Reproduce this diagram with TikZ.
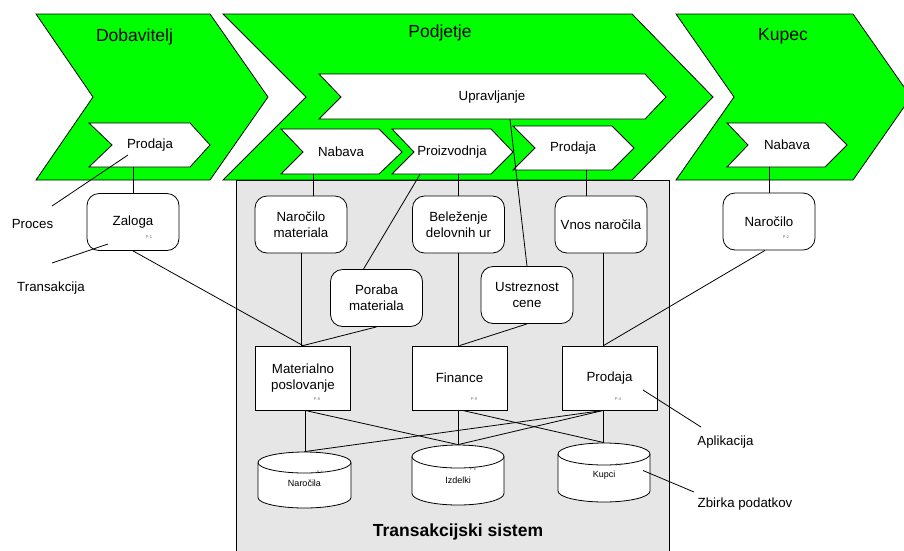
\documentclass[tikz,border=0pt]{standalone}
\usepackage{fontspec}
\setmainfont{Liberation Sans}
\usetikzlibrary{calc}
\definecolor{flowgreen}{RGB}{0,255,0}
\definecolor{sysgray}{RGB}{230,230,230}
\definecolor{taggray}{RGB}{110,110,110}

% data store drum: left x, right x, top y, bottom y, half height of the ellipse
\newcommand{\drum}[5]{%
  \pgfmathsetmacro\drumrx{(#2-#1)/2}%
  \draw[fill=white] (#1,#3+#5) -- (#1,#4-#5)
    arc[start angle=180,end angle=360,x radius=\drumrx pt,y radius=#5pt]
    -- (#2,#3+#5)
    arc[start angle=0,end angle=180,x radius=\drumrx pt,y radius=#5pt] -- cycle;
  \draw (#1,#3+#5) arc[start angle=180,end angle=360,x radius=\drumrx pt,y radius=#5pt];
}

\begin{document}
\begin{tikzpicture}[x=1pt,y=-1pt,line width=0.8pt,
  stage/.style={draw=black,fill=flowgreen},
  stepshape/.style={draw=black,fill=white},
  title/.style={font=\fontsize{17.5}{20}\selectfont,inner sep=0pt},
  steplabel/.style={font=\fontsize{13.3}{16}\selectfont,inner sep=0pt,minimum height=44pt},
  txbox/.style={draw,fill=white,rounded corners=12pt,align=center,
    font=\fontsize{13.3}{16}\selectfont,minimum width=92pt,minimum height=57pt,inner sep=2pt},
  appbox/.style={draw,fill=white,align=center,
    font=\fontsize{13.3}{16}\selectfont,minimum width=95pt,minimum height=64pt,inner sep=2pt},
  dblabel/.style={font=\fontsize{9}{11}\selectfont,inner sep=0pt,minimum width=92pt},
  tag/.style={font=\fontsize{4}{4}\selectfont,text=taggray,inner sep=0pt},
  note/.style={font=\fontsize{13.3}{16}\selectfont,inner sep=0pt},
  link/.style={draw=black,line width=0.8pt}
]
\useasboundingbox (0,0) rectangle (904,550);

% transaction system area
\draw[fill=sysgray] (236,180) rectangle (669,556);

% value chain stages
\draw[stage] (36,14) -- (210,14) -- (268,97) -- (210,180) -- (36,180) -- (93,97) -- cycle;
\draw[stage] (223,14) -- (632,14) -- (713,97) -- (632,180) -- (223,180) -- (306,97) -- cycle;
\draw[stage] (676,14) -- (853,14) -- (911,97) -- (853,180) -- (676,180) -- (734,97) -- cycle;

% processes
\draw[stepshape] (89,123) -- (190,123) -- (210,145) -- (190,167) -- (89,167) -- (112,145) -- cycle;
\draw[stepshape] (319,74) -- (645,74) -- (666,97) -- (645,119) -- (319,119) -- (341,97) -- cycle;
\draw[stepshape] (281,129) -- (379,129) -- (402,152) -- (379,174) -- (281,174) -- (303,152) -- cycle;
\draw[stepshape] (392,129) -- (491,129) -- (513,152) -- (491,174) -- (392,174) -- (414,152) -- cycle;
\draw[stepshape] (513,126) -- (612,126) -- (634,148) -- (612,170) -- (513,170) -- (535,148) -- cycle;
\draw[stepshape] (727,123) -- (825,123) -- (847,145) -- (825,167) -- (727,167) -- (748,145) -- cycle;

\node[title] (dobtitle) at (134.5,37) {Dobavitelj};
\node[title] (podtitle) at (440,33) {Podjetje};
\node[title] (kuptitle) at (783,36) {Kupec};

\node[steplabel] (dprod)   at (150,145) {Prodaja};
\node[steplabel] (upr)     at (492,97)  {Upravljanje};
\node[steplabel] (nabava)  at (341,152) {Nabava};
\node[steplabel] (proizv)  at (452,152) {Proizvodnja};
\node[steplabel] (podprod) at (573,148) {Prodaja};
\node[steplabel] (kupnab)  at (787,145) {Nabava};

% transactions
\node[txbox] (zaloga)     at (133,222)     {Zaloga};
\node[txbox] (narocilo)   at (769,221.5)   {Naročilo};
\node[txbox] (narmat)     at (301,224.5)   {Naročilo\\materiala};
\node[txbox] (belezenje)  at (458.5,224.5) {Beleženje\\delovnih ur};
\node[txbox] (vnos)       at (601,224.5)   {Vnos naročila};
\node[txbox] (poraba)     at (376.5,298)   {Poraba\\materiala};
\node[txbox] (ustreznost) at (527,295)     {Ustreznost\\cene};
\node[tag] (tagzal) at (149,237) {P-1};
\node[tag] (tagnar) at (786,237) {P-2};

% applications
\node[appbox] (matpos)  at (303,378)   {Materialno\\poslovanje};
\node[appbox] (finance) at (459.5,378) {Finance};
\node[appbox] (prodapp) at (609.5,378) {Prodaja};
\node[tag] (tagmat) at (317,399) {P-8};
\node[tag] (tagfin) at (474,399) {P-9};
\node[tag] (tagpro) at (618,399) {P-4};

% data stores
\drum{258}{351}{452}{508}{10.5}
\drum{412}{504}{445}{505}{11.5}
\drum{558}{650}{443}{502}{11}
\node[dblabel,minimum height=62pt] (narocila) at (304.5,483) {Naročila};
\node[dblabel,minimum height=70pt] (izdelki)  at (458,480)   {Izdelki};
\node[dblabel,minimum height=64pt] (kupci)    at (604,475)   {Kupci};
\node[tag] (tagnrc) at (320,472) {P-5};
\node[tag] (tagizd) at (473,469) {P-6};
\node[tag] (tagkup) at (619,465) {P-7};

\node[font=\bfseries\fontsize{17.5}{20}\selectfont,inner sep=0pt] (systitle) at (458,532) {Transakcijski sistem};

% process to transaction
\draw[link] (dprod.south -| zaloga.north) -- (zaloga.north);
\draw[link] ([xshift=12pt]narmat.north |- nabava.south) -- ([xshift=12pt]narmat.north);
\draw[link] (proizv.south -| belezenje.north) -- (belezenje.north);
\draw[link] ([xshift=-32pt]proizv.south) -- ([xshift=-13pt]poraba.north);
\draw[link] ([xshift=-15pt]vnos.north |- podprod.south) -- ([xshift=-15pt]vnos.north);
\draw[link] ([xshift=18pt]upr.south) -- (ustreznost.north);
\draw[link] (kupnab.south -| narocilo.north) -- (narocilo.north);

% transaction to application
\coordinate (mattop) at (matpos.north);
\coordinate (fintop) at (finance.north);
\coordinate (protop) at ([xshift=-6pt]prodapp.north);
\draw[link] (zaloga.south) -- (mattop);
\draw[link] (narmat.south) -- (narmat.south |- mattop);
\draw[link] (poraba.south) -- (mattop);
\draw[link] (belezenje.south) -- (belezenje.south |- fintop);
\draw[link] (ustreznost.south) -- (fintop);
\draw[link] (protop |- vnos.south) -- (protop);
\draw[link] ([xshift=-4pt]narocilo.south) -- (protop);

% application to data store
\coordinate (matbot) at ([xshift=2pt]matpos.south);
\coordinate (finbot) at ([xshift=-1pt]finance.south);
\coordinate (probot) at ([xshift=-6pt]prodapp.south);
\draw[link] (matbot) -- (matbot |- narocila.north);
\draw[link] (matbot) -- (izdelki.north);
\draw[link] (finbot) -- (finbot |- izdelki.north);
\draw[link] ([xshift=4pt]finbot) -- (kupci.north);
\draw[link] (probot) -- (probot |- kupci.north);
\draw[link] (probot) -- (narocila.north);
\draw[link] (probot) -- (izdelki.north);

% legend notes
\node[note] (proces)      at (32.5,224) {Proces};
\node[note] (transakcija) at (51,288)   {Transakcija};
\node[note] (aplikacija)  at (725.5,442) {Aplikacija};
\node[note] (zbirka)      at (745,504)  {Zbirka podatkov};
\draw[link] ([xshift=19.5pt,yshift=18pt]proces.center) -- ([xshift=-22pt,yshift=-10pt]dprod.center);
\draw[link] ([xshift=1pt,yshift=25pt]transakcija.center) -- ([xshift=-25pt,yshift=-22pt]zaloga.center);
\draw[link] ([xshift=-24.5pt,yshift=15pt]aplikacija.center) -- ([xshift=33.5pt,yshift=-12pt]prodapp.center);
\draw[link] ([xshift=-51pt,yshift=12pt]zbirka.center) -- ([xshift=39pt,yshift=4.5pt]kupci.center);
\end{tikzpicture}
\end{document}
